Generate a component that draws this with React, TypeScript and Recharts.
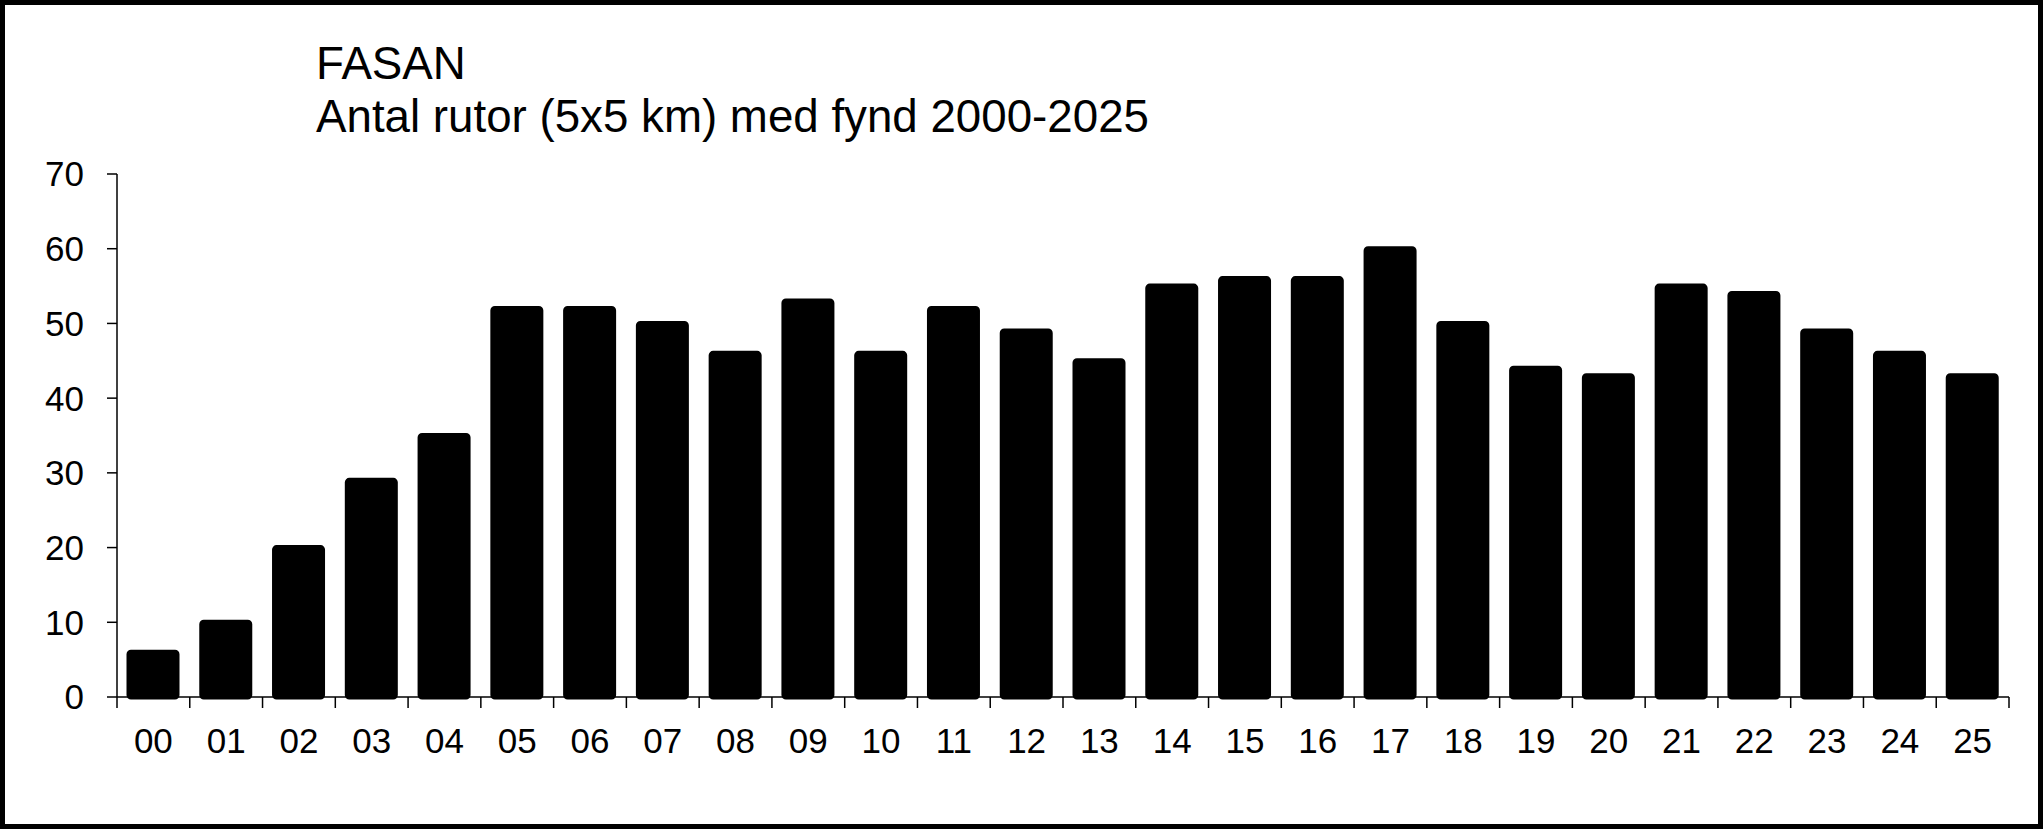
import React from 'react';
import { BarChart, Bar, XAxis, YAxis } from 'recharts';

const years = ['00', '01', '02', '03', '04', '05', '06', '07', '08', '09', '10', '11', '12', '13', '14', '15', '16', '17', '18', '19', '20', '21', '22', '23', '24', '25'];
const squares = [6, 10, 20, 29, 35, 52, 52, 50, 46, 53, 46, 52, 49, 45, 55, 56, 56, 60, 50, 44, 43, 55, 54, 49, 46, 43];
const yTicks = [0, 10, 20, 30, 40, 50, 60, 70];
const titleLines = ['FASAN', 'Antal rutor (5x5 km) med fynd 2000-2025'];

const W = 2043;
const H = 829;
const plotLeft = 117;
const plotRight = 2009;
const plotTop = 174;
const plotBottom = 697;
const step = (plotRight - plotLeft) / years.length;
const font = '"Liberation Sans", Arial, sans-serif';

// ticks sit between the categories, labels in the middle
function YearTick(props: any) {
    const { x, y, payload, index } = props;
    const left = x - step / 2;
    const right = x + step / 2;
    return (
        <g>
            <line x1={left} x2={left} y1={y} y2={y + 11} stroke="#000" strokeWidth={1.5} />
            {index === years.length - 1 && (
                <line x1={right} x2={right} y1={y} y2={y + 11} stroke="#000" strokeWidth={1.5} />
            )}
            <text x={x} y={y + 56} textAnchor="middle" fill="#000" fontSize={35} fontFamily={font}>
                {payload.value}
            </text>
        </g>
    );
}

export default function App() {
    const data = years.map((year, i) => ({ year, value: squares[i] }));

    return (
        <div style={{ position: 'absolute', left: 0, top: 0, width: W, height: H, background: '#fff' }}>
            <BarChart
                width={W}
                height={H}
                data={data}
                margin={{ top: plotTop, right: W - plotRight, bottom: 0, left: 0 }}
            >
                <XAxis
                    dataKey="year"
                    height={H - plotBottom}
                    axisLine={{ stroke: '#000', strokeWidth: 1.5 }}
                    tickLine={false}
                    tick={<YearTick />}
                    interval={0}
                    tickSize={0}
                    tickMargin={0}
                />
                <YAxis
                    domain={[0, 70]}
                    ticks={yTicks}
                    interval={0}
                    width={plotLeft}
                    axisLine={{ stroke: '#000', strokeWidth: 1.5 }}
                    tickLine={{ stroke: '#000', strokeWidth: 1.5 }}
                    tickSize={10}
                    tickMargin={23}
                    tick={{ fill: '#000', fontSize: 35, fontFamily: font }}
                />
                <Bar
                    dataKey="value"
                    fill="#000"
                    stroke="#000"
                    strokeWidth={5}
                    strokeLinejoin="round"
                    barSize={48}
                    radius={2}
                    isAnimationActive={false}
                />
            </BarChart>
            <svg width={W} height={H} style={{ position: 'absolute', left: 0, top: 0, pointerEvents: 'none' }}>
                <text x={316} y={79} fontSize={45.7} fontFamily={font} fill="#000">{titleLines[0]}</text>
                <text x={316} y={132} fontSize={45.7} fontFamily={font} fill="#000">{titleLines[1]}</text>
                <rect x={2.5} y={2.5} width={W - 5} height={H - 5} fill="none" stroke="#000" strokeWidth={5} />
            </svg>
        </div>
    );
}
